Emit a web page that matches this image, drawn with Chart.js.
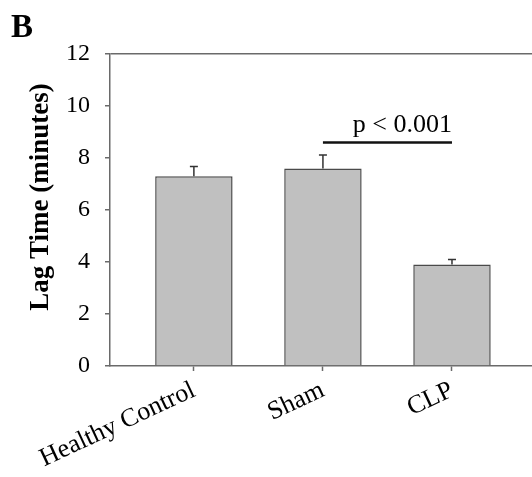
<!DOCTYPE html>
<html>
<head>
<meta charset="utf-8">
<script src="https://cdn.jsdelivr.net/npm/chart.js@4.4.1/dist/chart.umd.min.js"></script>
<style>
  html, body { margin: 0; padding: 0; background: #fff; overflow: hidden; }
  canvas { display: block; }
</style>
</head>
<body>
<canvas id="lagChart" width="532" height="477"></canvas>
<script>
// Lag time per group (mean and standard error, minutes)
const categories = ['Healthy Control', 'Sham', 'CLP'];
const lagTimeMeans = [7.3, 7.6, 3.9];
const lagTimeErrors = [0.37, 0.52, 0.2];
const yTickValues = [0, 2, 4, 6, 8, 10, 12];

// Labels and the Sham vs CLP comparison
const panelLabel = 'B';
const yAxisTitle = 'Lag Time (minutes)';
const comparedGroups = [1, 2];
const comparisonLineLevel = 8.6;
const comparisonTextLevel = 9.0;
const comparisonText = 'p < 0.001';

const SERIF = "'Liberation Serif', 'Times New Roman', serif";
const AXIS_GREY = '#6a6a6a';

// Upward-only error whiskers with a short cap
const errorBarPlugin = {
  id: 'errorBars',
  afterDatasetsDraw(chart) {
    const { ctx } = chart;
    const y = chart.scales.y;
    const meta = chart.getDatasetMeta(0);
    ctx.save();
    ctx.strokeStyle = '#333';
    ctx.lineWidth = 1.5;
    meta.data.forEach((bar, i) => {
      const base = y.getPixelForValue(lagTimeMeans[i]);
      const top = y.getPixelForValue(lagTimeMeans[i] + lagTimeErrors[i]);
      ctx.beginPath();
      ctx.moveTo(bar.x, base);
      ctx.lineTo(bar.x, top);
      ctx.moveTo(bar.x - 4, top);
      ctx.lineTo(bar.x + 4, top);
      ctx.stroke();
    });
    ctx.restore();
  }
};

// Significance bracket, panel letter and rotated axis title
const annotationPlugin = {
  id: 'annotations',
  afterDraw(chart) {
    const { ctx } = chart;
    const x = chart.scales.x;
    const y = chart.scales.y;
    ctx.save();
    const x1 = x.getPixelForValue(comparedGroups[0]);
    const x2 = x.getPixelForValue(comparedGroups[1]);
    const ly = y.getPixelForValue(comparisonLineLevel);
    ctx.strokeStyle = '#111';
    ctx.lineWidth = 2.5;
    ctx.beginPath();
    ctx.moveTo(x1, ly);
    ctx.lineTo(x2, ly);
    ctx.stroke();

    ctx.fillStyle = '#000';
    ctx.font = '26px ' + SERIF;
    ctx.textAlign = 'right';
    ctx.textBaseline = 'alphabetic';
    ctx.fillText(comparisonText, x2, y.getPixelForValue(comparisonTextLevel));

    ctx.font = 'bold 33px ' + SERIF;
    ctx.textAlign = 'left';
    ctx.fillText(panelLabel, 11, 37);

    ctx.translate(41.5, 197);
    ctx.rotate(-Math.PI / 2);
    ctx.font = 'bold 27px ' + SERIF;
    ctx.textAlign = 'center';
    ctx.textBaseline = 'middle';
    ctx.fillText(yAxisTitle, 0, 0);
    ctx.restore();
  }
};

new Chart(document.getElementById('lagChart'), {
  type: 'bar',
  data: {
    datasets: [{
      data: lagTimeMeans.map((v, i) => ({ x: i, y: v })),
      backgroundColor: '#c0c0c0',
      borderColor: '#4a4a4a',
      borderWidth: 1.5,
      barPercentage: 0.6,
      categoryPercentage: 1.0
    }]
  },
  options: {
    responsive: false,
    animation: false,
    devicePixelRatio: 1,
    layout: { padding: { top: 54, right: 0, left: 0, bottom: 0 } },
    plugins: {
      legend: { display: false },
      tooltip: { enabled: false }
    },
    scales: {
      x: {
        type: 'linear',
        offset: false,
        min: -0.65,
        max: 2.62,
        afterBuildTicks: s => { s.ticks = categories.map((_, i) => ({ value: i })); },
        afterFit: s => { s.height = 111; },
        ticks: {
          autoSkip: false,
          minRotation: 25,
          maxRotation: 25,
          padding: 4,
          color: '#000',
          font: { family: SERIF, size: 26 },
          callback: v => categories[v]
        },
        grid: {
          offset: false,
          drawOnChartArea: false,
          tickLength: 5,
          tickColor: AXIS_GREY,
          tickWidth: 1.5
        },
        border: { color: AXIS_GREY, width: 1.5 }
      },
      y: {
        min: 0,
        max: 12,
        afterBuildTicks: s => { s.ticks = yTickValues.map(v => ({ value: v })); },
        afterFit: s => { s.width = 110; },
        ticks: {
          padding: 15,
          color: '#000',
          font: { family: SERIF, size: 24 }
        },
        grid: {
          color: c => (c.tick && c.tick.value === 12 ? AXIS_GREY : 'rgba(0,0,0,0)'),
          lineWidth: 1.5,
          tickLength: 5,
          tickColor: AXIS_GREY,
          tickWidth: 1.5
        },
        border: { color: AXIS_GREY, width: 1.5 }
      }
    }
  },
  plugins: [errorBarPlugin, annotationPlugin]
});
</script>
</body>
</html>
